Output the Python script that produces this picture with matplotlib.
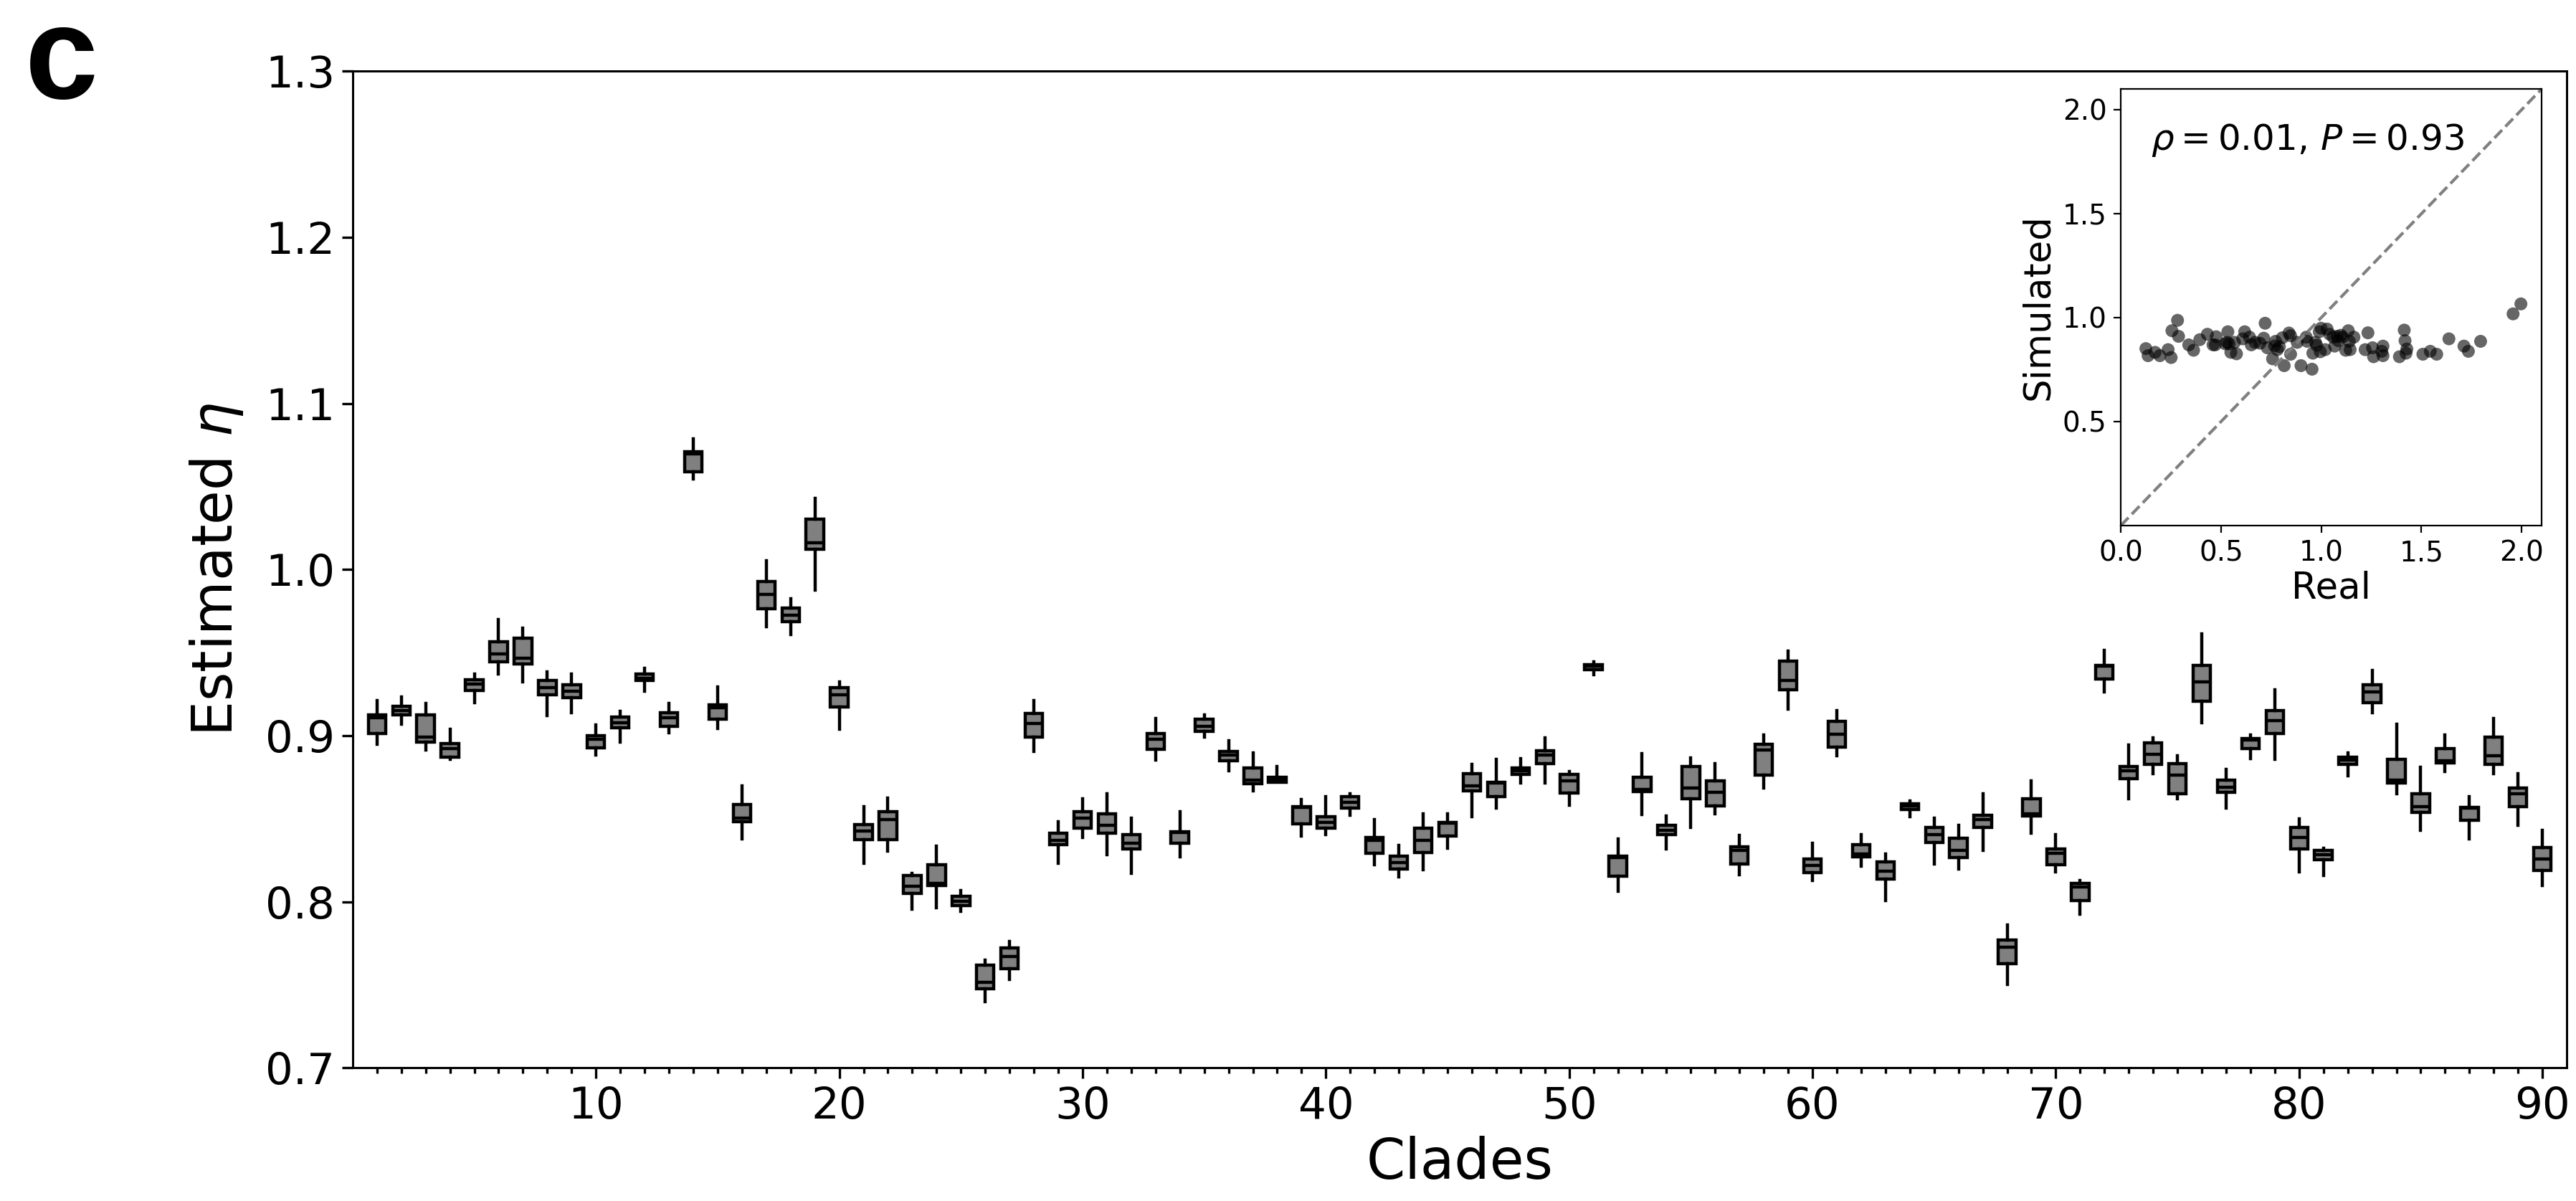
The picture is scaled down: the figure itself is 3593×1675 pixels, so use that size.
import matplotlib
matplotlib.use("Agg")
import matplotlib.pyplot as plt

# per-clade bootstrap summaries of the estimated eta
clades = list(range(1, 91))
whis_hi = [0.9210, 0.9234, 0.9192, 0.9038, 0.9372, 0.9697, 0.9649, 0.9384, 0.9370, 0.9064,
           0.9147, 0.9405, 0.9192, 1.0785, 0.9294, 0.8697, 1.0051, 0.9824, 1.0428, 0.9322,
           0.8572, 0.8626, 0.8169, 0.8335, 0.8067, 0.7648, 0.7762, 0.9210, 0.8482, 0.8619,
           0.8650, 0.8505, 0.9104, 0.8541, 0.9123, 0.8969, 0.8896, 0.8813, 0.8614, 0.8631,
           0.8648, 0.8496, 0.8340, 0.8531, 0.8529, 0.8827, 0.8856, 0.8860, 0.8986, 0.8785,
           0.9443, 0.8377, 0.8891, 0.8517, 0.8868, 0.8832, 0.8399, 0.9002, 0.9511, 0.8351,
           0.9152, 0.8406, 0.8288, 0.8607, 0.8505, 0.8460, 0.8650, 0.7861, 0.8726, 0.8406,
           0.8127, 0.9514, 0.8943, 0.8986, 0.8879, 0.9613, 0.8797, 0.9005, 0.9275, 0.8501,
           0.8323, 0.8896, 0.9393, 0.9069, 0.8808, 0.9002, 0.8631, 0.9104, 0.8773, 0.8430]
q3 = [0.9126, 0.9175, 0.9123, 0.8953, 0.9336, 0.9566, 0.9587, 0.9334, 0.9306, 0.8998,
      0.9114, 0.9372, 0.9137, 1.0709, 0.9185, 0.8584, 0.9926, 0.9767, 1.0305, 0.9287,
      0.8463, 0.8543, 0.8157, 0.8221, 0.8032, 0.7620, 0.7724, 0.9133, 0.8413, 0.8541,
      0.8529, 0.8406, 0.9014, 0.8422, 0.9097, 0.8903, 0.8804, 0.8750, 0.8572, 0.8512,
      0.8631, 0.8387, 0.8276, 0.8441, 0.8477, 0.8773, 0.8718, 0.8804, 0.8908, 0.8766,
      0.9429, 0.8276, 0.8749, 0.8458, 0.8813, 0.8726, 0.8330, 0.8950, 0.9448, 0.8259,
      0.9088, 0.8342, 0.8240, 0.8590, 0.8448, 0.8382, 0.8520, 0.7771, 0.8619, 0.8316,
      0.8110, 0.9424, 0.8813, 0.8955, 0.8832, 0.9424, 0.8733, 0.8981, 0.9152, 0.8446,
      0.8311, 0.8872, 0.9306, 0.8856, 0.8648, 0.8920, 0.8567, 0.8991, 0.8683, 0.8328]
medians = [0.9109, 0.9151, 0.8991, 0.8920, 0.9310, 0.9490, 0.9467, 0.9289, 0.9268, 0.8979,
           0.9078, 0.9346, 0.9109, 1.0695, 0.9168, 0.8505, 0.9848, 0.9727, 1.0162, 0.9244,
           0.8425, 0.8493, 0.8093, 0.8110, 0.8003, 0.7513, 0.7672, 0.9074, 0.8370, 0.8505,
           0.8458, 0.8354, 0.8979, 0.8417, 0.9057, 0.8884, 0.8730, 0.8735, 0.8568, 0.8477,
           0.8600, 0.8370, 0.8235, 0.8370, 0.8473, 0.8697, 0.8714, 0.8789, 0.8884, 0.8726,
           0.9417, 0.8264, 0.8678, 0.8430, 0.8683, 0.8659, 0.8311, 0.8915, 0.9334, 0.8217,
           0.9010, 0.8288, 0.8186, 0.8576, 0.8406, 0.8311, 0.8496, 0.7726, 0.8529, 0.8292,
           0.8091, 0.9419, 0.8789, 0.8886, 0.8761, 0.9324, 0.8690, 0.8974, 0.9092, 0.8387,
           0.8283, 0.8851, 0.9263, 0.8733, 0.8572, 0.8849, 0.8562, 0.8879, 0.8650, 0.8259]
q1 = [0.9014, 0.9123, 0.8960, 0.8872, 0.9270, 0.9443, 0.9433, 0.9244, 0.9230, 0.8927,
      0.9047, 0.9334, 0.9054, 1.0589, 0.9097, 0.8482, 0.9762, 0.9684, 1.0120, 0.9171,
      0.8375, 0.8375, 0.8051, 0.8098, 0.7977, 0.7478, 0.7596, 0.8993, 0.8342, 0.8441,
      0.8411, 0.8318, 0.8917, 0.8352, 0.9026, 0.8849, 0.8709, 0.8720, 0.8470, 0.8441,
      0.8565, 0.8292, 0.8197, 0.8295, 0.8394, 0.8666, 0.8631, 0.8768, 0.8832, 0.8655,
      0.9396, 0.8153, 0.8662, 0.8406, 0.8619, 0.8576, 0.8228, 0.8761, 0.9277, 0.8174,
      0.8932, 0.8269, 0.8138, 0.8555, 0.8358, 0.8264, 0.8448, 0.7625, 0.8517, 0.8224,
      0.8008, 0.9341, 0.8742, 0.8827, 0.8650, 0.9206, 0.8659, 0.8920, 0.9014, 0.8316,
      0.8252, 0.8825, 0.9199, 0.8714, 0.8536, 0.8837, 0.8489, 0.8825, 0.8572, 0.8188]
whis_lo = [0.8946, 0.9069, 0.8912, 0.8856, 0.9199, 0.9372, 0.9322, 0.9121, 0.9140, 0.8884,
           0.8960, 0.9268, 0.9017, 1.0546, 0.9045, 0.8377, 0.9654, 0.9609, 0.9876, 0.9038,
           0.8233, 0.8306, 0.7956, 0.7963, 0.7944, 0.7400, 0.7530, 0.8903, 0.8233, 0.8387,
           0.8281, 0.8169, 0.8851, 0.8269, 0.8991, 0.8789, 0.8666, 0.8718, 0.8394, 0.8406,
           0.8520, 0.8224, 0.8150, 0.8193, 0.8323, 0.8512, 0.8565, 0.8714, 0.8714, 0.8583,
           0.9365, 0.8063, 0.8524, 0.8318, 0.8448, 0.8529, 0.8162, 0.8683, 0.9159, 0.8127,
           0.8879, 0.8212, 0.8008, 0.8512, 0.8228, 0.8197, 0.8311, 0.7502, 0.8413, 0.8181,
           0.7925, 0.9265, 0.8619, 0.8773, 0.8619, 0.9078, 0.8565, 0.8863, 0.8856, 0.8181,
           0.8157, 0.8756, 0.9140, 0.8648, 0.8430, 0.8785, 0.8377, 0.8773, 0.8458, 0.8098]

# real vs simulated eta for the inset
real_eta = [0.125, 0.136, 0.171, 0.195, 0.236, 0.255, 0.251, 0.283, 0.288, 0.339,
            0.363, 0.394, 0.432, 0.460, 0.471, 0.476, 0.530, 0.534, 0.540, 0.549,
            0.567, 0.577, 0.618, 0.608, 0.642, 0.651, 0.670, 0.694, 0.713, 0.720,
            0.731, 0.757, 0.772, 0.781, 0.791, 0.806, 0.815, 0.839, 0.847, 0.880,
            0.899, 0.925, 0.930, 0.954, 0.958, 0.971, 0.977, 0.990, 0.995, 0.999,
            1.020, 1.029, 1.042, 1.060, 1.067, 1.085, 1.098, 1.107, 1.122, 1.135,
            1.144, 1.163, 1.219, 1.233, 1.256, 1.261, 1.302, 1.308, 1.308, 1.390,
            1.414, 1.418, 1.423, 1.427, 1.507, 1.544, 1.576, 1.637, 1.712, 1.734,
            1.795, 1.957, 1.996, 1.079, 0.767, 0.847, 0.521, 1.140]
sim_eta = [0.851, 0.817, 0.833, 0.817, 0.846, 0.937, 0.808, 0.987, 0.910, 0.869,
           0.843, 0.894, 0.920, 0.869, 0.869, 0.908, 0.881, 0.932, 0.874, 0.833,
           0.881, 0.826, 0.932, 0.898, 0.906, 0.869, 0.881, 0.877, 0.901, 0.973,
           0.855, 0.802, 0.886, 0.846, 0.860, 0.903, 0.769, 0.926, 0.824, 0.881,
           0.769, 0.906, 0.886, 0.752, 0.829, 0.881, 0.867, 0.932, 0.836, 0.949,
           0.846, 0.945, 0.920, 0.906, 0.863, 0.889, 0.915, 0.906, 0.843, 0.937,
           0.846, 0.906, 0.846, 0.927, 0.855, 0.812, 0.838, 0.863, 0.817, 0.812,
           0.940, 0.889, 0.829, 0.849, 0.824, 0.838, 0.824, 0.898, 0.863, 0.838,
           0.886, 1.018, 1.066, 0.910, 0.864, 0.913, 0.874, 0.886]

stats = [dict(med=m, q1=a, q3=b, whislo=lo, whishi=hi, fliers=[])
         for m, a, b, lo, hi in zip(medians, q1, q3, whis_lo, whis_hi)]

fig = plt.figure(figsize=(17.965, 8.375), dpi=200)
ax = fig.add_axes([0.1369, 0.1109, 0.8595, 0.8298])

lw = 1.6
ax.bxp(stats, positions=clades, widths=0.72, patch_artist=True,
       showcaps=False, showfliers=False, manage_ticks=False,
       boxprops=dict(facecolor="grey", edgecolor="black", linewidth=lw),
       medianprops=dict(color="black", linewidth=lw),
       whiskerprops=dict(color="black", linewidth=lw))

ax.set_xlim(0, 91)
ax.set_ylim(0.7, 1.3)
ax.set_xticks(range(10, 91, 10))
ax.set_xticks(clades, minor=True)
ax.set_yticks([0.7, 0.8, 0.9, 1.0, 1.1, 1.2, 1.3])
ax.tick_params(which="major", labelsize=22, length=5.5, width=1.2)
ax.tick_params(which="minor", length=3, width=1.2)
for s in ax.spines.values():
    s.set_linewidth(1.1)
ax.set_xlabel("Clades", fontsize=28, labelpad=4)
ax.set_ylabel(r"Estimated $\eta$", fontsize=28, labelpad=10)

fig.text(0.0097, 0.918, "c", fontsize=66, fontweight="bold",
         family="Liberation Sans", ha="left", va="baseline")

# inset: real vs simulated
ins = fig.add_axes([0.8233, 0.5624, 0.1634, 0.3636])
ins.plot([0, 2.1], [0, 2.1], ls="--", color="grey", lw=1.5)
ins.scatter(real_eta, sim_eta, s=42, color="black", alpha=0.6, edgecolors="none")
ins.set_xlim(0, 2.1)
ins.set_ylim(0, 2.1)
ins.set_xticks([0.0, 0.5, 1.0, 1.5, 2.0])
ins.set_yticks([0.5, 1.0, 1.5, 2.0])
ins.tick_params(labelsize=14, length=3.5, width=0.8)
for s in ins.spines.values():
    s.set_linewidth(0.8)
ins.set_xlabel("Real", fontsize=18.5, labelpad=2)
ins.set_ylabel("Simulated", fontsize=18.5, labelpad=3)
ins.text(0.15, 1.806, r"$\rho=0.01$, $P=0.93$", fontsize=18, va="baseline")

fig.savefig("out.png", dpi=200)
